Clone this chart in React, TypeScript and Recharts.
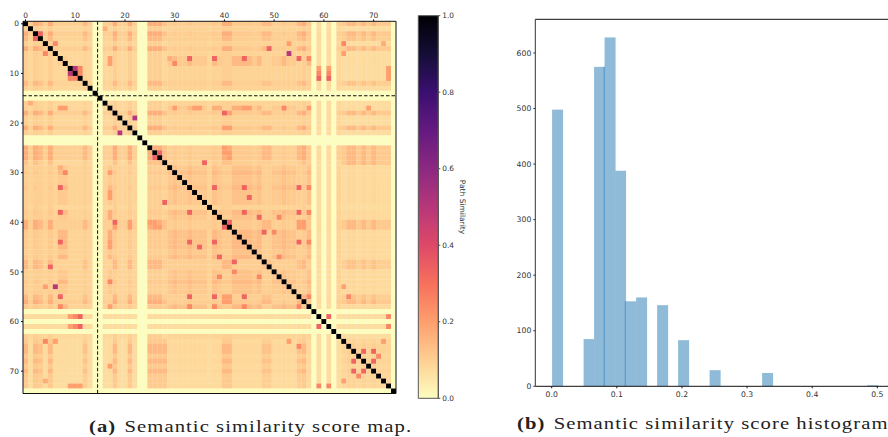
import React from 'react';
import {
  ScatterChart, Scatter, XAxis, YAxis, ReferenceLine, ComposedChart, Bar,
} from 'recharts';

// ---- heat map data (block structure of the matrix) ----
const indexClasses =
  'AEABE AEKKE EEBEZ ZEKAE EAEZZ AAARD CDDCD DDECD AACCC CDCBB DDCDD BACZH ZHZEG FFGFG FGGGZ'.replace(/ /g, '');
const classOrder = 'ABCDEFGHKR';
const pairTable = [
  [.167, .143, .111, .1, .1, .143, .111, .077, .1, .125],
  [.143, .125, .1, .1, .091, .125, .1, .077, .091, .1],
  [.111, .1, .143, .125, .091, .083, .077, .071, .143, .1],
  [.1, .1, .125, .111, .091, .083, .077, .071, .111, .091],
  [.1, .091, .091, .091, .083, .071, .071, .071, .083, .083],
  [.143, .125, .083, .083, .071, .1, .091, .071, .077, .143],
  [.111, .1, .077, .077, .071, .091, .083, .071, .071, .111],
  [.077, .077, .071, .071, .071, .071, .071, .063, .071, .071],
  [.1, .091, .143, .111, .083, .077, .071, .071, .1, .083],
  [.125, .1, .1, .091, .083, .143, .111, .071, .083, .083],
];
const cellsHalf = [[9, 10], [19, 22], [6, 53]];
const cellsThird = [
  [2, 3], [7, 33], [7, 38], [7, 44], [7, 55], [33, 38], [33, 44], [33, 55], [38, 44], [38, 55], [44, 55],
  [5, 49], [11, 59], [11, 61], [18, 40], [26, 27], [28, 36], [35, 45], [39, 47], [42, 48], [40, 41],
  [59, 61], [66, 68], [66, 70], [68, 70],
];
const cellsQuarter = [
  [9, 11], [10, 11], [4, 6], [8, 30], [7, 57], [33, 57], [38, 57], [44, 57], [55, 57], [39, 51], [47, 51],
  [42, 50], [4, 64], [10, 59], [10, 61], [59, 73], [61, 73], [55, 65], [67, 71], [17, 52],
];
const cellsFifth = [
  [9, 59], [9, 61], [9, 73], [10, 73], [11, 73], [7, 17], [8, 17], [17, 30], [17, 34], [17, 35], [17, 45],
  [17, 57], [17, 69], [18, 41], [21, 40], [21, 41], [4, 53], [6, 64], [53, 64], [64, 72], [40, 55], [40, 56],
  [41, 55], [41, 56], [17, 44], [25, 40], [26, 40], [26, 41], [27, 41],
];
const cellsSixth = [[7, 29], [1, 16], [17, 38], [17, 39], [17, 42], [17, 43], [4, 72]];

// ---- histogram data ----
const histCenters = [0.0081, 0.0565, 0.0726, 0.0887, 0.1048, 0.121, 0.1371, 0.1694, 0.2016, 0.25, 0.3306, 0.4919];
const histCounts = [498, 85, 575, 628, 388, 153, 160, 146, 83, 29, 24, 2];
const histOverlaps = [{ x: 0.0806, y: 575 }, { x: 0.1129, y: 153 }];

// ---- ticks ----
const cellTicks = [0, 10, 20, 30, 40, 50, 60, 70];
const barTicks = [0, 0.2, 0.4, 0.6, 0.8, 1];
const histXTicks = [0, 0.1, 0.2, 0.3, 0.4, 0.5];
const histYTicks = [0, 100, 200, 300, 400, 500, 600];

const magmaStops = ['#fcfdbf', '#fecf92', '#fe9f6d', '#f7705c', '#de4968', '#b73779', '#8c2981', '#641a80', '#3b0f70', '#140e36', '#000004'];

const hex = (s: string) => [1, 3, 5].map((k) => parseInt(s.slice(k, k + 2), 16));
function magmaR(v: number) {
  const t = Math.min(0.9999, Math.max(0, v)) * 10;
  const k = Math.floor(t);
  const a = hex(magmaStops[k]);
  const b = hex(magmaStops[k + 1]);
  const c = a.map((q, n) => Math.round(q + (b[n] - q) * (t - k)));
  return `rgb(${c[0]},${c[1]},${c[2]})`;
}

const overrides = new Map<string, number>();
const put = (list: number[][], v: number) => list.forEach(([i, j]) => { overrides.set(`${i},${j}`, v); overrides.set(`${j},${i}`, v); });
put(cellsSixth, 0.167); put(cellsFifth, 0.2); put(cellsQuarter, 0.25); put(cellsThird, 0.333); put(cellsHalf, 0.5);

const N = indexClasses.length;
const cells: { x: number; y: number; v: number }[] = [];
for (let i = 0; i < N; i++) {
  for (let j = 0; j < N; j++) {
    const a = classOrder.indexOf(indexClasses[i]);
    const b = classOrder.indexOf(indexClasses[j]);
    let v = a < 0 || b < 0 ? 0 : pairTable[a][b];
    const o = overrides.get(`${i},${j}`);
    if (o !== undefined) v = o;
    if (i === j) v = 1;
    cells.push({ x: j, y: i, v });
  }
}
const histData = histCenters.map((x, k) => ({ x, count: histCounts[k] }));
const barData = [{ name: 'scale', value: 1 }];

const tickStyle = { fontSize: 7.4, fontFamily: 'DejaVu Sans', fill: '#333' };
const histTick = { fontSize: 7.7, fontFamily: 'DejaVu Sans', fill: '#333' };
const CELL = 4.97;
const BAR_W = 11;

const HeatCell = (p: any) => (
  <rect x={p.cx - CELL / 2} y={p.cy - CELL / 2} width={CELL + 0.2} height={CELL + 0.2} fill={magmaR(p.payload.v)} />
);
const HistBar = (p: any) => (
  <rect x={p.x + p.width / 2 - BAR_W / 2 + 0.8} y={p.y} width={BAR_W} height={p.height} fill="#8fbbd9" />
);

const caption: React.CSSProperties = {
  position: 'absolute', fontFamily: 'Liberation Serif', fontSize: 17.5, letterSpacing: 0.9, whiteSpace: 'nowrap',
  color: '#222', lineHeight: '20px', transformOrigin: 'left center', transform: 'scaleX(1.18)',
};
const abs: React.CSSProperties = { position: 'absolute', left: 0, top: 0 };
const heatMargin = { top: 1.3, left: 3, right: 492, bottom: 43.5 };

export default function App() {
  return (
    <div style={{ position: 'absolute', left: 0, top: 0, width: 888, height: 437, overflow: 'hidden', background: '#fff' }}>
      <div style={abs}>
        <ScatterChart width={888} height={437} margin={heatMargin}>
          <XAxis dataKey="x" type="number" orientation="top" height={20} domain={[-0.5, 74.5]} ticks={cellTicks}
            tick={false} axisLine={false} tickLine={false} allowDataOverflow />
          <YAxis dataKey="y" type="number" reversed width={20} domain={[-0.5, 74.5]} ticks={cellTicks}
            tick={false} axisLine={false} tickLine={false} allowDataOverflow />
          <Scatter data={cells} shape={HeatCell} isAnimationActive={false} />
        </ScatterChart>
      </div>
      <div style={abs}>
        <ScatterChart width={888} height={437} margin={heatMargin}>
          <XAxis dataKey="x" type="number" orientation="top" height={20} domain={[-0.5, 74.5]} ticks={cellTicks}
            tick={tickStyle} tickSize={2} tickMargin={1} stroke="#111" interval={0} allowDataOverflow />
          <YAxis dataKey="y" type="number" reversed width={20} domain={[-0.5, 74.5]} ticks={cellTicks}
            tick={tickStyle} tickSize={2} tickMargin={2} stroke="#111" interval={0} allowDataOverflow />
          <ReferenceLine x={14.5} stroke="#111" strokeWidth={1} strokeDasharray="3.5 2" />
          <ReferenceLine y={14.5} stroke="#111" strokeWidth={1} strokeDasharray="3.5 2" />
          <ReferenceLine x={74.5} stroke="#111" strokeWidth={1} />
          <ReferenceLine y={74.5} stroke="#111" strokeWidth={1} />
        </ScatterChart>
      </div>
      <div style={abs}>
        <ComposedChart width={888} height={437} data={barData} margin={{ top: 15.7, left: 418.3, right: 429.7, bottom: 38.7 }} barCategoryGap={0}>
          <defs>
            <linearGradient id="magmaR" x1="0" y1="1" x2="0" y2="0">
              {magmaStops.map((c, k) => <stop key={c} offset={`${k * 10}%`} stopColor={c} />)}
            </linearGradient>
          </defs>
          <XAxis dataKey="name" hide />
          <YAxis orientation="right" width={20} domain={[0, 1]} ticks={barTicks} tick={tickStyle}
            tickFormatter={(v: number) => v.toFixed(1)} tickSize={2} tickMargin={2} stroke="#555" interval={0}
            label={{ value: 'Path Similarity', angle: 90, position: 'right', dx: -1, style: { fontSize: 7.5, fontFamily: 'DejaVu Sans', fill: '#333', textAnchor: 'middle' } }} />
          <Bar dataKey="value" fill="url(#magmaR)" stroke="#555" strokeWidth={1} isAnimationActive={false} />
        </ComposedChart>
      </div>
      <div style={abs}>
        <ComposedChart width={900} height={437} data={histData} margin={{ top: 19.3, left: 505.3, right: 6.4, bottom: 20.7 }}>
          <XAxis dataKey="x" type="number" height={30} domain={[-0.0252, 0.525]} ticks={histXTicks} tick={histTick}
            tickFormatter={(v: number) => v.toFixed(1)} tickSize={2} tickMargin={3} stroke="#111" interval={0} allowDataOverflow />
          <YAxis type="number" width={30} domain={[0, 660.6]} ticks={histYTicks} tick={histTick}
            tickSize={2} tickMargin={2} stroke="#333" interval={0} allowDataOverflow />
          <Bar dataKey="count" fill="#8fbbd9" shape={HistBar} isAnimationActive={false} />
          {histOverlaps.map((o) => (
            <ReferenceLine key={o.x} segment={[{ x: o.x, y: 0 }, { x: o.x, y: o.y }]} stroke="#4f93c4" strokeWidth={1} />
          ))}
          <ReferenceLine y={660.6} stroke="#111" strokeWidth={1} />
        </ComposedChart>
      </div>
      <div style={{ ...caption, left: 89, top: 416 }}><b>(a)</b><span style={{ marginLeft: 7 }}>Semantic similarity score map.</span></div>
      <div style={{ ...caption, left: 517, top: 413 }}><b>(b)</b><span style={{ marginLeft: 7 }}>Semantic similarity score histogram</span></div>
    </div>
  );
}
